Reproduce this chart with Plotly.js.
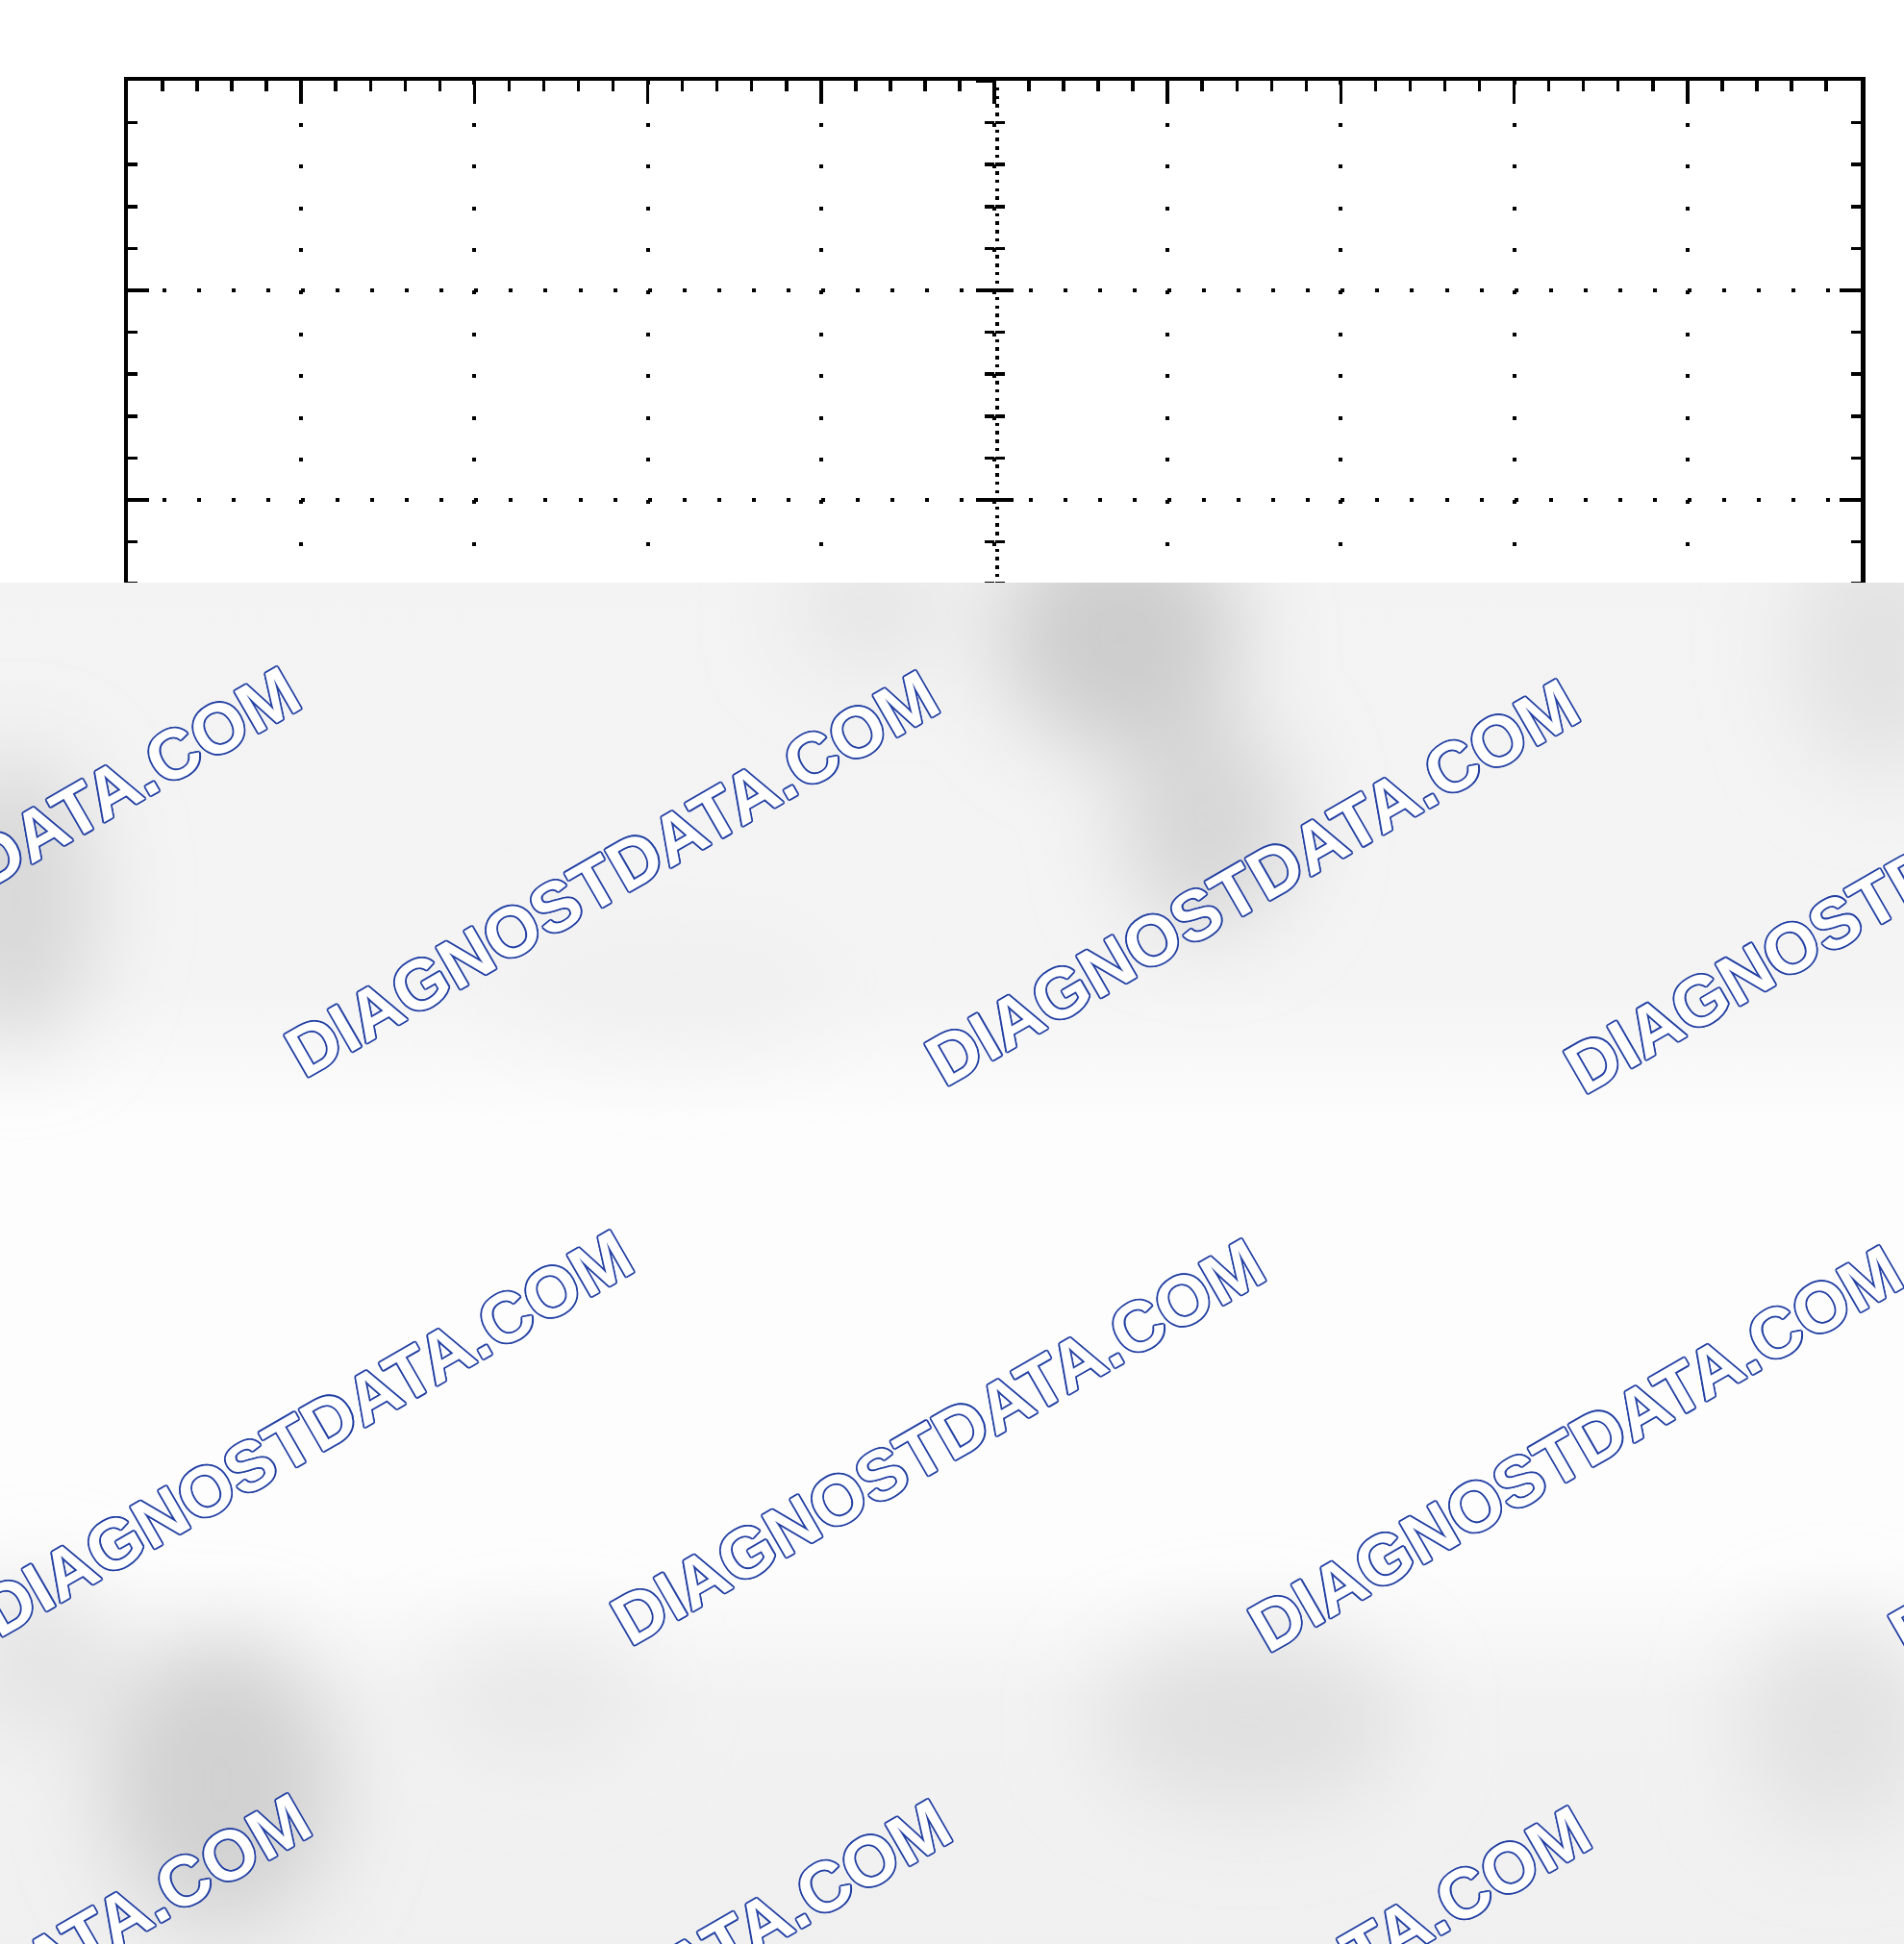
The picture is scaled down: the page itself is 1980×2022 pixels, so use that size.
<!DOCTYPE html>
<html>
<head>
<meta charset="utf-8">
<script src="https://cdn.plot.ly/plotly-3.0.1.min.js"></script>
<style>
  html, body { margin: 0; padding: 0; background: #fff; }
  #chart { width: 1980px; height: 2022px; }
</style>
</head>
<body>
<div id="chart"></div>
<script>
// graticule: 10 x 8 divisions, each split in 5, centre axes split in 25
const xDivisions = [-5, -4, -3, -2, -1, 0, 1, 2, 3, 4, 5];
const yDivisions = [-4, -3, -2, -1, 0, 1, 2, 3, 4];
const subDivision = 0.2;
const fineDivision = 0.04;
const watermarkText = 'DIAGNOSTDATA.COM';

const W = 1980, H = 2022;
const M = { l: 133, r: 45, t: 84, b: 194 };
const plotW = W - M.l - M.r, plotH = H - M.t - M.b;
const px = (x) => (x - M.l) / plotW;        // pixel -> paper
const py = (y) => (H - M.b - y) / plotH;

const xSpan = xDivisions.length - 1, ySpan = yDivisions.length - 1;
const dotsV = (plotH / ySpan) * subDivision;   // spacing of dots along vertical grid lines
const dotsH = (plotW / xSpan) * subDivision;

// scanned sheet is covered from this row down by the watermark sheet
const coverTop = 606;
const ink = '#000';
const wmBlue = '#2340a3';

// grey, blotchy background of the watermark sheet
function coverSvg() {
  const w = W, h = H - coverTop;
  const blobs = [
    [1165, 55, 125, 120, '#cdcdcd'], [1255, 250, 90, 110, '#d6d6d6'],
    [905, 25, 80, 60, '#e4e4e4'], [15, 330, 85, 150, '#d8d8d8'],
    [1955, 70, 90, 130, '#e2e2e2'], [230, 1250, 120, 150, '#d1d1d1'],
    [1300, 1185, 160, 90, '#e0e0e0'], [1910, 1190, 100, 110, '#e2e2e2'],
    [560, 1160, 110, 60, '#e8e8e8'], [40, 1120, 80, 80, '#e3e3e3'],
    [700, 420, 180, 60, '#f0f0f0']
  ];
  const e = blobs.map(b => `<ellipse cx="${b[0]}" cy="${b[1]}" rx="${b[2]}" ry="${b[3]}" fill="${b[4]}"/>`).join('');
  const svg = `<svg xmlns="http://www.w3.org/2000/svg" width="${w}" height="${h}" viewBox="0 0 ${w} ${h}">
    <defs>
      <linearGradient id="g" x1="0" y1="0" x2="0" y2="1">
        <stop offset="0" stop-color="#f3f3f3"/><stop offset="0.3" stop-color="#f4f4f4"/>
        <stop offset="0.4" stop-color="#fdfdfd"/><stop offset="0.72" stop-color="#fdfdfd"/>
        <stop offset="0.82" stop-color="#f2f2f2"/><stop offset="1" stop-color="#f0f0f0"/>
      </linearGradient>
      <filter id="f" filterUnits="userSpaceOnUse" x="-300" y="-300" width="${w + 600}" height="${h + 600}">
        <feGaussianBlur stdDeviation="45"/>
      </filter>
    </defs>
    <rect width="${w}" height="${h}" fill="url(#g)"/>
    <g filter="url(#f)">${e}</g>
  </svg>`;
  return 'data:image/svg+xml;charset=utf-8,' + encodeURIComponent(svg);
}

// watermark centres, pixels
const wmCentres = [
  [-28, 904], [636, 908], [1302, 917], [1967, 926],
  [318, 1490], [975, 1499], [1638, 1506], [2304, 1512],
  [-17, 2076], [649, 2082], [1314, 2089]
];
const o = 1.8, d = 1.3;
const outline = [[o, 0], [-o, 0], [0, o], [0, -o], [d, d], [-d, d], [d, -d], [-d, -d]]
  .map(s => `${s[0]}px ${s[1]}px 0 ${wmBlue}`).join(', ');

const annotations = wmCentres.map(c => ({
  text: watermarkText, xref: 'paper', yref: 'paper', x: px(c[0]), y: py(c[1]),
  xanchor: 'center', yanchor: 'middle', showarrow: false, textangle: -30,
  font: { family: 'Liberation Sans, Arial, sans-serif', size: 73, weight: 700, color: '#ffffff', shadow: outline }
}));

const frameAxis = (dots, major, minor) => ({
  tick0: 0, dtick: 1, showticklabels: false, zeroline: false,
  showline: true, linecolor: ink, linewidth: 4.5, mirror: 'ticks',
  ticks: 'inside', ticklen: major, tickwidth: 3.5, tickcolor: ink,
  showgrid: true, gridcolor: ink, gridwidth: 4, griddash: `4px,${(dots - 4).toFixed(2)}px`,
  minor: { tick0: 0, dtick: subDivision, ticks: 'inside', ticklen: minor, tickwidth: 3.5, tickcolor: ink, showgrid: false }
});

const centreAxis = (dir, major, minor, step) => ({
  overlaying: 'y', anchor: 'free', position: 0.5, side: 'left',
  range: [yDivisions[0], yDivisions[ySpan]], fixedrange: true,
  showticklabels: false, showgrid: false, zeroline: false, showline: false,
  tick0: 0, dtick: step, ticks: dir, ticklen: major, tickwidth: 3.5, tickcolor: ink,
  minor: minor ? { tick0: 0, dtick: subDivision, ticks: dir, ticklen: minor, tickwidth: 3.5, tickcolor: ink, showgrid: false } : undefined
});

const blank = (ya) => ({ type: 'scatter', mode: 'markers', x: [], y: [], xaxis: 'x', yaxis: ya, hoverinfo: 'skip', showlegend: false });
const traces = [blank('y'), blank('y2'), blank('y3'), blank('y4')];

const layout = {
  width: W, height: H, margin: M,
  paper_bgcolor: '#ffffff', plot_bgcolor: '#ffffff', showlegend: false,
  xaxis: Object.assign(frameAxis(dotsV, 24, 11), { range: [xDivisions[0], xDivisions[xSpan]] }),
  yaxis: Object.assign(frameAxis(dotsH, 22, 10), { range: [yDivisions[0], yDivisions[ySpan]] }),
  yaxis2: centreAxis('outside', 19, 10, 1),
  yaxis3: centreAxis('inside', 19, 10, 1),
  yaxis4: centreAxis('inside', 3.5, 0, fineDivision),
  images: [{
    source: coverSvg(), xref: 'paper', yref: 'paper',
    x: px(0), y: py(coverTop), sizex: W / plotW, sizey: (H - coverTop) / plotH,
    xanchor: 'left', yanchor: 'top', sizing: 'stretch', layer: 'above'
  }],
  annotations: annotations
};

Plotly.newPlot('chart', traces, layout, { displayModeBar: false, staticPlot: true });
</script>
</body>
</html>
